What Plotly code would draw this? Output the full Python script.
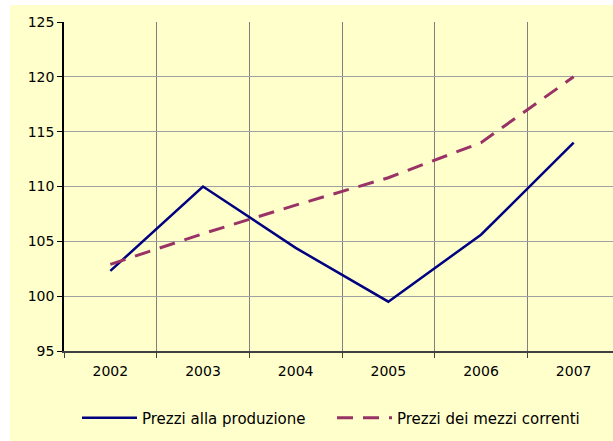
import plotly.graph_objects as go

years = ["2002", "2003", "2004", "2005", "2006", "2007"]
prezzi_produzione = [102.3, 110.0, 104.4, 99.5, 105.6, 114.0]
prezzi_mezzi = [102.9, 105.7, 108.3, 110.8, 114.0, 120.0]
series_names = ["Prezzi alla produzione", "Prezzi dei mezzi correnti"]

# figure is slightly wider than the 613px window; the overflow is hidden
W, H = 625, 441
L = 64
T = 22
plot_bottom = 351
plot_right = 620
B = H - plot_bottom
R = W - plot_right
plot_h = plot_bottom - T
plot_w = plot_right - L

fig = go.Figure()
fig.add_trace(go.Scatter(x=years, y=prezzi_produzione, mode="lines", name=series_names[0],
                         line=dict(color="#000080", width=2.5)))
fig.add_trace(go.Scatter(x=years, y=prezzi_mezzi, mode="lines", name=series_names[1],
                         line=dict(color="#993366", width=3, dash="16px,10px")))

fig.add_shape(type="rect", xref="paper", yref="paper",
              x0=(10 - L) / plot_w, x1=1.05,
              y0=-(B + 5) / plot_h, y1=(plot_h + T - 5) / plot_h,
              fillcolor="#FFFFCC", line=dict(width=0), layer="below")

fig.update_layout(
    width=W, height=H,
    margin=dict(l=L, r=R, t=T, b=B, autoexpand=False),
    paper_bgcolor="white",
    plot_bgcolor="rgba(0,0,0,0)",
    font=dict(family="DejaVu Sans", size=14, color="black"),
    showlegend=True,
    legend=dict(orientation="h", x=(77 - L) / plot_w, xanchor="left",
                y=-(418 - plot_bottom) / plot_h, yanchor="middle",
                bgcolor="rgba(0,0,0,0)", itemwidth=55, entrywidth=185,
                font=dict(size=15)),
    xaxis=dict(type="category", range=[-0.5, 5.5],
               tickson="boundaries", showgrid=True, gridcolor="#808080", gridwidth=1,
               ticks="outside", ticklen=5, tickcolor="#404040",
               ticklabelstandoff=6,
               showline=True, linecolor="#404040", linewidth=1.5,
               zeroline=False, fixedrange=True),
    yaxis=dict(range=[95, 125], dtick=5, tick0=95, showgrid=True, gridcolor="#a0a0a0", gridwidth=1,
               ticks="outside", ticklen=5, tickcolor="#000000",
               showline=True, linecolor="#000000", linewidth=1.5,
               zeroline=False, fixedrange=True),
)

fig.write_html("out.html", config={"displayModeBar": False},
               post_script="document.body.style.margin='0';document.body.style.overflow='hidden';")
